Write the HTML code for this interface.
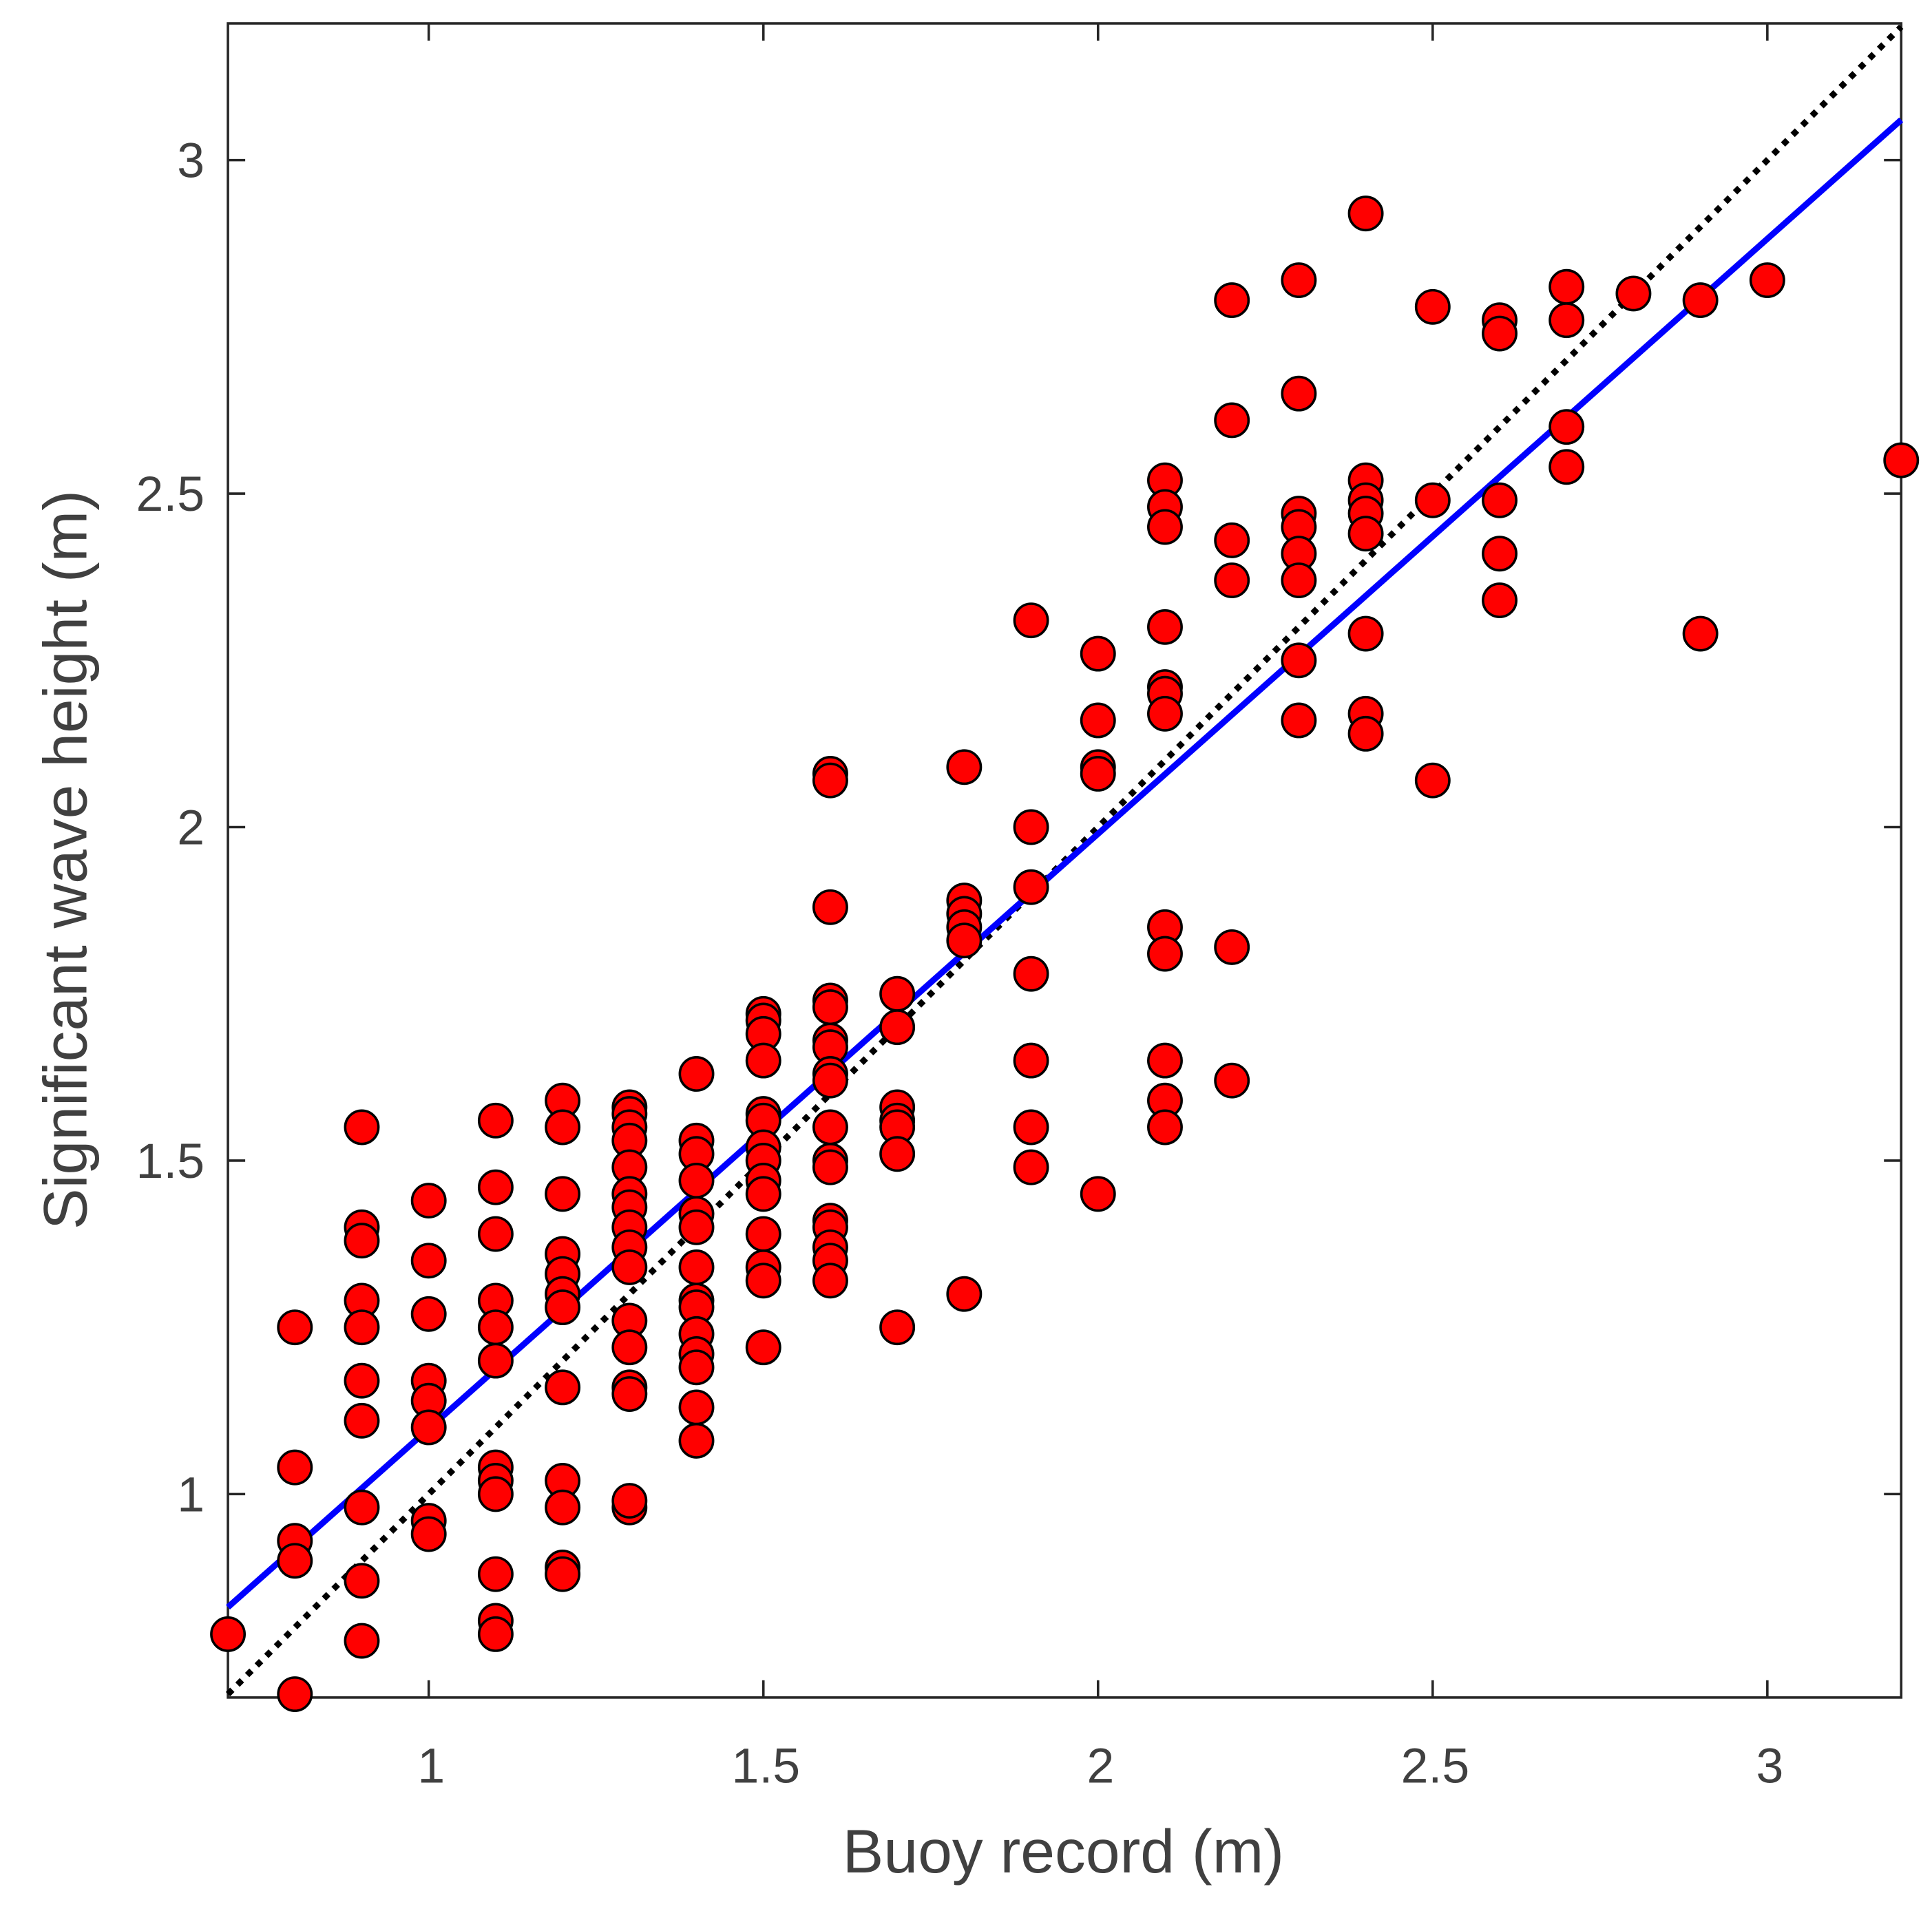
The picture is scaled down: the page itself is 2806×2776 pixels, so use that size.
<!DOCTYPE html>
<html><head><meta charset="utf-8"><style>html,body{margin:0;padding:0;background:#fff}svg{display:block}text{font-family:"Liberation Sans",Arial,sans-serif;fill:#404040}</style></head>
<body>
<svg id="chart" width="2806" height="2776" viewBox="0 0 1568 1551.3" preserveAspectRatio="none" xmlns="http://www.w3.org/2000/svg">
<rect x="0" y="0" width="1568" height="1552" fill="#fff"/>
<g id="g"></g>
</svg>
<script>
const xTicks=[1,1.5,2,2.5,3];
const yTicks=[1,1.5,2,2.5,3];
const xTickLabels=["1","1.5","2","2.5","3"];
const yTickLabels=["1","1.5","2","2.5","3"];
const fitSlope=0.892, fitIntercept=0.206;
const colX=[0.7,0.8,0.9,1.0,1.1,1.2,1.3,1.4,1.5,1.6,1.7,1.8,1.9,2.0,2.1,2.2,2.3,2.4,2.5,2.6,2.7,2.8,2.9,3.0,3.2];
const colY=[
[0.79],
[1.25,1.04,0.93,0.90,0.70],
[1.55,1.40,1.38,1.29,1.25,1.17,1.11,0.98,0.87,0.78],
[1.44,1.35,1.27,1.17,1.14,1.10,0.96,0.94],
[1.56,1.46,1.39,1.29,1.25,1.20,1.04,1.02,1.00,0.88,0.81,0.79],
[1.59,1.55,1.45,1.36,1.33,1.30,1.28,1.16,1.02,0.98,0.89,0.88],
[1.58,1.57,1.55,1.53,1.49,1.45,1.43,1.40,1.37,1.34,1.26,1.22,1.16,1.15,0.98,0.99],
[1.63,1.53,1.51,1.47,1.42,1.40,1.34,1.29,1.28,1.24,1.21,1.19,1.13,1.08],
[1.72,1.71,1.69,1.65,1.57,1.56,1.52,1.50,1.47,1.45,1.39,1.34,1.32,1.22],
[2.08,2.07,1.88,1.74,1.73,1.68,1.67,1.63,1.62,1.55,1.50,1.49,1.41,1.40,1.37,1.35,1.32],
[1.75,1.70,1.58,1.56,1.55,1.51,1.25],
[2.09,1.89,1.87,1.85,1.83,1.30],
[2.31,2.00,1.91,1.78,1.65,1.55,1.49],
[2.26,2.16,2.09,2.08,1.45],
[2.52,2.48,2.45,2.30,2.21,2.20,2.17,1.85,1.81,1.65,1.59,1.55],
[2.79,2.61,2.43,2.37,1.82,1.62],
[2.82,2.65,2.47,2.45,2.41,2.37,2.25,2.16],
[2.92,2.52,2.49,2.47,2.44,2.29,2.17,2.14],
[2.78,2.49,2.07],
[2.76,2.74,2.49,2.41,2.34],
[2.81,2.76,2.60,2.54],
[2.80],
[2.79,2.29],
[2.82],
[2.55]];
const L=185,R=1543,T=19,B=1378,xmin=0.7,xmax=3.2,ymin=0.695,ymax=3.205;
const sx=v=>L+(v-xmin)/(xmax-xmin)*(R-L);
const sy=v=>B-(v-ymin)/(ymax-ymin)*(B-T);
const NS="http://www.w3.org/2000/svg";
const g=document.getElementById('g');
function mk(tag,attrs){const e=document.createElementNS(NS,tag);for(const k in attrs)e.setAttribute(k,attrs[k]);g.appendChild(e);return e;}
let e=mk('rect',{x:L,y:T,width:R-L,height:B-T,fill:'none',stroke:'#262626','stroke-width':2});


xTicks.forEach((t,i)=>{const x=sx(t);
mk('line',{x1:x,x2:x,y1:B,y2:B-14,stroke:'#262626','stroke-width':2});
mk('line',{x1:x,x2:x,y1:T,y2:T+14,stroke:'#262626','stroke-width':2});
const tx=mk('text',{x:x+2,y:1447,'text-anchor':'middle','font-size':40});tx.textContent=xTickLabels[i];

});
yTicks.forEach((t,i)=>{const y=sy(t);
mk('line',{x1:L,x2:L+14,y1:y,y2:y,stroke:'#262626','stroke-width':2});
mk('line',{x1:R,x2:R-14,y1:y,y2:y,stroke:'#262626','stroke-width':2});
const tx=mk('text',{x:166,y:y+14,'text-anchor':'end','font-size':40});tx.textContent=yTickLabels[i];

});
e=mk('line',{x1:sx(xmin),y1:sy(xmin),x2:sx(xmax),y2:sy(xmax),stroke:'#000','stroke-width':5,'stroke-dasharray':'5 6'});


e=mk('line',{x1:sx(xmin),y1:sy(fitIntercept+fitSlope*xmin),x2:sx(xmax),y2:sy(fitIntercept+fitSlope*xmax),stroke:'#0000ff','stroke-width':5});


colX.forEach((x,i)=>colY[i].forEach(y=>{const c=mk('circle',{cx:sx(x),cy:sy(y),r:13.5,fill:'#ff0000',stroke:'#000','stroke-width':2});

}));
e=mk('text',{x:863,y:1520,'text-anchor':'middle','font-size':50});e.textContent='Buoy record (m)';


e=mk('text',{x:0,y:0,'text-anchor':'middle','font-size':50,transform:'translate(70,698) rotate(-90)'});e.textContent='Significant wave height (m)';


</script>
</body></html>
